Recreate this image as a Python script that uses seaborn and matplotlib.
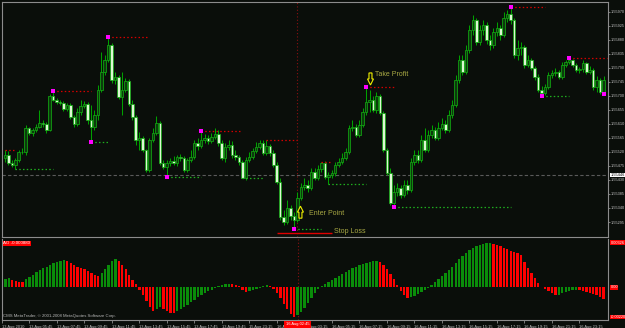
import numpy as np
import pandas as pd
import matplotlib
matplotlib.use("Agg")
import matplotlib.pyplot as plt
from matplotlib.patches import Polygon
from matplotlib.transforms import IdentityTransform, blended_transform_factory
import seaborn as sns

# ---------------- data (prices in points above 1.55000) ----------------
BASE = 1.55
POINT = 0.00001
FIRST_OPEN = 501

close_pts = [510,485,478,494,520,520,597,581,591,600,
             613,610,591,700,687,681,678,658,671,633,
             610,649,668,674,623,600,639,719,777,816,
             864,751,761,697,719,748,674,633,559,565,
             526,462,559,581,613,485,472,485,491,485,
             504,501,462,494,504,549,539,559,565,555,
             568,578,549,501,536,543,510,504,488,436,
             494,504,523,536,549,517,539,517,478,424,
             311,295,340,314,302,372,408,414,404,456,
             436,465,485,440,446,453,478,488,501,520,
             597,600,575,607,649,681,687,655,700,645,
             526,453,356,392,404,382,414,398,488,510,
             494,559,526,575,591,565,597,610,591,639,
             671,751,816,777,848,912,944,874,912,928,
             880,864,906,919,896,951,964,944,832,854,
             858,800,816,790,761,719,710,729,768,774,
             777,761,800,809,816,800,784,787,806,777,
             784,729,751,713,751]

high_pts = [526,523,494,501,526,533,607,600,597,610,
            655,623,617,706,716,694,687,684,678,678,
            639,661,687,684,681,671,655,736,841,832,
            890,870,777,768,777,758,755,687,639,584,
            571,530,565,597,636,620,494,494,501,507,
            510,514,507,501,526,559,565,588,578,575,
            581,597,591,559,549,559,555,526,510,494,
            504,520,533,552,559,559,559,546,526,488,
            436,334,366,350,327,392,420,436,430,469,
            469,478,488,491,456,462,488,501,517,533,
            607,623,610,623,661,729,719,700,713,706,
            652,533,469,414,420,414,430,430,501,526,
            526,575,597,591,607,600,617,629,623,655,
            687,768,832,832,864,928,960,951,928,944,
            938,896,919,938,928,970,976,986,951,880,
            874,864,832,822,796,771,732,739,777,784,
            790,784,809,816,822,819,806,793,816,809,
            796,790,764,758,764]

low_pts = [488,478,472,465,488,514,510,575,571,584,
           597,600,581,588,684,674,671,652,652,626,
           600,604,639,661,610,552,591,623,713,768,
           809,742,739,690,639,713,668,623,543,526,
           520,456,456,552,575,478,465,440,475,478,
           475,491,456,456,488,498,526,533,549,546,
           549,562,539,494,488,526,501,494,478,436,
           430,488,498,517,530,510,510,507,472,417,
           302,285,289,302,272,295,366,398,392,398,
           430,430,456,433,417,436,443,472,481,494,
           514,588,568,568,600,639,649,649,645,639,
           520,446,350,343,379,372,376,385,392,478,
           485,488,520,520,565,559,559,591,581,584,
           629,665,742,768,771,838,896,864,864,896,
           867,848,854,893,880,890,938,931,822,816,
           832,790,793,784,751,713,700,703,723,758,
           764,755,755,793,803,793,777,774,777,771,
           771,719,713,706,706]

# Awesome Oscillator, units of 1e-4
ao_e4 = [5.9,6.6,5.1,4.4,4.0,3.7,5.9,7.3,8.8,11.0,
         12.5,13.9,14.7,16.1,17.6,18.3,19.1,19.8,19.1,17.6,
         16.1,14.7,13.9,13.2,11.7,10.3,8.8,8.1,10.3,13.2,
         16.1,19.1,20.5,19.1,16.1,13.2,8.8,5.1,2.2,-2.2,
         -5.9,-10.3,-14.7,-17.6,-16.1,-14.7,-16.1,-17.6,-19.1,-19.4,
         -17.6,-16.1,-14.7,-13.2,-11.0,-9.5,-7.3,-5.9,-4.4,-2.9,
         -1.8,-0.7,0.7,1.5,2.2,2.6,2.2,1.5,0.7,-2.2,
         -3.7,-2.9,-2.2,-1.5,-0.7,0.7,1.5,0.7,-1.5,-4.4,
         -8.1,-12.5,-16.1,-19.8,-22.0,-20.5,-18.3,-15.4,-11.7,-8.1,
         -4.4,-1.5,0.7,2.2,3.7,5.1,6.6,8.1,9.5,11.0,
         12.5,13.9,14.7,16.1,16.9,17.6,18.3,19.1,19.4,18.3,
         16.1,13.2,9.5,5.9,1.5,-2.9,-5.9,-8.1,-7.3,-6.6,
         -5.1,-3.7,-2.2,-0.7,1.5,3.7,5.9,8.1,10.3,12.5,
         14.7,17.6,20.5,22.7,24.9,27.1,28.6,30.1,30.8,31.5,
         32.3,32.6,31.5,30.8,30.1,28.6,27.9,26.4,25.7,24.9,
         23.5,18.3,13.9,10.3,6.6,2.9,0.4,-1.5,-2.9,-4.4,
         -5.9,-5.5,-4.4,-3.7,-2.9,-2.2,-1.8,-2.2,-2.9,-3.7,
         -4.4,-5.1,-5.9,-7.3,-8.8]

# support / resistance dotted levels: (start bar, end bar)
res_spans = [(0, 3), (14, 25), (30, 42), (57, 69), (76, 85), (92, 95), (105, 113), (147, 157), (164, 175)]
sup_spans = [(3, 14), (25, 30), (47, 57), (69, 75), (84, 92), (94, 105), (113, 147), (156, 164)]
fractal_up = [14, 30, 57, 105, 147, 164]
fractal_down = [25, 47, 84, 113, 156, 174]

price_tick_labels = ["1.55970", "1.55925", "1.55880", "1.55835", "1.55790", "1.55745",
                     "1.55700", "1.55655", "1.55610", "1.55565", "1.55520", "1.55475",
                     "1.55430", "1.55385", "1.55340", "1.55295"]
time_tick_bars = [-1, 7, 15, 23, 31, 39, 47, 55, 63, 71, 79, 87, 95, 103, 111, 119,
                  127, 135, 143, 151, 159, 167]
time_tick_labels = ["13 Aug 2010", "13 Aug 05:45", "13 Aug 07:45", "13 Aug 09:45",
                    "13 Aug 11:45", "13 Aug 13:45", "13 Aug 15:45", "13 Aug 17:45",
                    "13 Aug 19:45", "15 Aug 23:15", "16 Aug 01:15", "16 Aug 03:15",
                    "16 Aug 05:15", "16 Aug 07:15", "16 Aug 09:15", "16 Aug 11:15",
                    "16 Aug 13:15", "16 Aug 15:15", "16 Aug 17:15", "16 Aug 19:15",
                    "16 Aug 21:15", "16 Aug 23:15"]
hline_price = 1.55446
vline_bar = 85
vline_label = "16 Aug 02:45"
stop_price = 1.55259
stop_span = (79, 95)
ao_name = "AO -0.000880"

# ---------------- derived arrays ----------------
n = len(close_pts)
idx = np.arange(n)
close = BASE + np.array(close_pts) * POINT
high = BASE + np.array(high_pts) * POINT
low = BASE + np.array(low_pts) * POINT
open_ = np.r_[BASE + FIRST_OPEN * POINT, close[:-1]]
ao = np.array(ao_e4) * 1e-4

# ---------------- style ----------------
BG = "#0a0e0a"
FRAME = "#8c8c8c"
TXT = "#c4c4c4"
WICK = "#00a000"
EDGE = "#12a812"
BULL_FACE = "#0c3a0c"
BEAR_FACE = "#dcf7d2"
AO_UP = "#0a8c0a"
AO_DN = "#ff0000"
ANN = "#a9a944"
LBL = 2.75

sns.set_theme(style="dark", rc={"axes.facecolor": BG, "figure.facecolor": BG,
                                "savefig.facecolor": BG, "axes.grid": False})
plt.rcParams["font.family"] = ["Liberation Sans", "DejaVu Sans"]

W, H = 625, 328
fig = plt.figure(figsize=(W / 100, H / 100), dpi=100)


def box(x0, y0, x1, y1):
    return [x0 / W, 1 - y1 / H, (x1 - x0) / W, (y1 - y0) / H]


axp = fig.add_axes(box(2, 2, 608, 237))
axa = fig.add_axes(box(2, 238.5, 608, 320))
XL = (-0.87, 175.3)

# ---------------- candles ----------------
bull = close >= open_
body_lo = np.minimum(open_, close)
body_h = np.maximum(np.abs(close - open_), 1.2 * POINT)
axp.vlines(idx, low, high, color=WICK, lw=0.75, zorder=2)
axp.bar(idx[bull], body_h[bull], bottom=body_lo[bull], width=0.74, color=BULL_FACE,
        edgecolor=EDGE, linewidth=0.55, zorder=3)
axp.bar(idx[~bull], body_h[~bull], bottom=body_lo[~bull], width=0.74, color=BEAR_FACE,
        edgecolor=EDGE, linewidth=0.55, zorder=3)

# levels
for s, e in res_spans:
    axp.hlines(high[s], s, e, colors="#d40000", lw=0.9, linestyles=(0, (1.2, 1.8)), zorder=4)
for s, e in sup_spans:
    axp.hlines(low[s], s, e, colors="#1fae1f", lw=0.9, linestyles=(0, (1.2, 1.8)), zorder=4)
axp.scatter(fractal_up, high[fractal_up], marker="s", s=5, c="#ff00ff", linewidths=0, zorder=6)
axp.scatter(fractal_down, low[fractal_down], marker="s", s=5, c="#ff00ff", linewidths=0, zorder=6)

axp.axhline(hline_price, color="#5a5a5a", lw=0.8, ls=(0, (3, 2)), zorder=1)
axp.axvline(vline_bar, color="#8b1010", lw=0.8, ls=(0, (1, 2)), zorder=1)
axa.axvline(vline_bar, color="#8b1010", lw=0.8, ls=(0, (1, 2)), zorder=1)
axp.hlines(stop_price, stop_span[0], stop_span[1], colors="#e00000", lw=1.0, zorder=4)

axp.set_xlim(*XL)
axp.set_ylim(BASE + 246.8 * POINT, BASE + 1002 * POINT)

# ---------------- AO histogram ----------------
df = pd.DataFrame({"bar": idx, "ao": ao,
                   "dir": np.where(np.r_[True, np.diff(ao) > 0], "up", "down")})
sns.barplot(data=df, x="bar", y="ao", hue="dir", palette={"up": AO_UP, "down": AO_DN},
            dodge=False, native_scale=True, width=0.68, saturation=1, legend=False,
            errorbar=None, linewidth=0, ax=axa)
axa.set_xlim(*XL)
axa.set_ylim(-24.2e-4, 35.7e-4)
axa.set_xlabel("")
axa.set_ylabel("")

# ---------------- frames / ticks ----------------
for ax in (axp, axa):
    for sp in ax.spines.values():
        sp.set_visible(True)
        sp.set_color(FRAME)
        sp.set_linewidth(0.8)
    ax.grid(False)
axa.spines["top"].set_visible(False)

axp.yaxis.tick_right()
price_ticks = [float(t) for t in price_tick_labels]
axp.set_yticks(price_ticks)
axp.set_yticklabels(price_tick_labels)
axp.tick_params(axis="y", right=True, left=False, length=1.5, width=0.6, color=FRAME,
                labelsize=LBL, labelcolor=TXT, pad=0.6)
axp.tick_params(axis="x", bottom=False, labelbottom=False)

axa.set_yticks([])
axa.set_xticks(time_tick_bars)
axa.set_xticklabels(time_tick_labels)
for lab in axa.get_xticklabels():
    lab.set_ha("left")
axa.tick_params(axis="x", bottom=True, length=2.5, width=0.6, color=FRAME,
                labelsize=2.9, labelcolor=TXT, pad=1.2)

# labels on right axes
ytrans = blended_transform_factory(axp.transAxes, axp.transData)
axp.text(1.0 + 2.5 / 606, hline_price, f"{hline_price:.5f}", transform=ytrans, fontsize=LBL,
         color="#000000", va="center", ha="left", clip_on=False, zorder=10,
         bbox=dict(boxstyle="square,pad=0.12", fc="#ffffff", ec="none"))

atrans = blended_transform_factory(axa.transAxes, axa.transData)
for val, lab in [(ao.max(), f"{ao.max():.5f}"), (0.0, "0.00"), (ao.min(), f"{ao.min():.5f}")]:
    axa.text(1.0 + 2.5 / 606, val, lab, transform=atrans, fontsize=LBL, color="#ffffff",
             va="center", ha="left", clip_on=False, zorder=10,
             bbox=dict(boxstyle="square,pad=0.12", fc="#ff0000", ec="none"))

axa.text(0.002, 1 - 5 / 81.5, ao_name, transform=axa.transAxes, fontsize=3.2,
         color="#ffffff", va="center", ha="left", zorder=10,
         bbox=dict(boxstyle="square,pad=0.15", fc="#ff0000", ec="none"))
axa.text(0.001, 1.5 / 81.5, "CMS MetaTrader, \u00a9 2001-2008 MetaQuotes Software Corp.",
         transform=axa.transAxes, fontsize=3.1, color="#b8b8b8", va="bottom", ha="left", zorder=10)

ttrans = blended_transform_factory(axa.transData, axa.transAxes)
axa.text(vline_bar, -4.3 / 81.5, vline_label, transform=ttrans, fontsize=2.9, color="#ffffff",
         va="center", ha="center", clip_on=False, zorder=20,
         bbox=dict(boxstyle="square,pad=0.35", fc="#ff0000", ec="none"))

# ---------------- annotations ----------------
axp.annotate("Take Profit", xy=(105, high[105]), xytext=(9, 12), textcoords="offset pixels",
             fontsize=5.0, color=ANN, va="center", ha="left", zorder=8)
axp.annotate("Enter Point", xy=(84, low[84]), xytext=(15, 16), textcoords="offset pixels",
             fontsize=5.0, color=ANN, va="center", ha="left", zorder=8)
axp.annotate("Stop Loss", xy=(stop_span[1], stop_price), xytext=(2, 2), textcoords="offset pixels",
             fontsize=5.0, color=ANN, va="center", ha="left", zorder=8)

fig.canvas.draw()


def arrow(ax, xd, yd, dx, dy, down):
    cx, cy = ax.transData.transform((xd, yd))
    cx += dx
    cy += dy
    s = -1 if down else 1
    shape = [(-1.5, -6), (1.5, -6), (1.5, 0), (3, 0), (0, 6), (-3, 0), (-1.5, 0)]
    verts = [(cx + px, cy + s * py) for px, py in shape]
    ax.add_patch(Polygon(verts, closed=True, transform=IdentityTransform(), fc=BG,
                         ec="#f0f000", lw=0.8, zorder=9, clip_on=False))


arrow(axp, 105, high[105], 4.3, 8, True)
arrow(axp, 84, low[84], 6.5, 17, False)

fig.savefig("out.png", dpi=100, facecolor=BG)
